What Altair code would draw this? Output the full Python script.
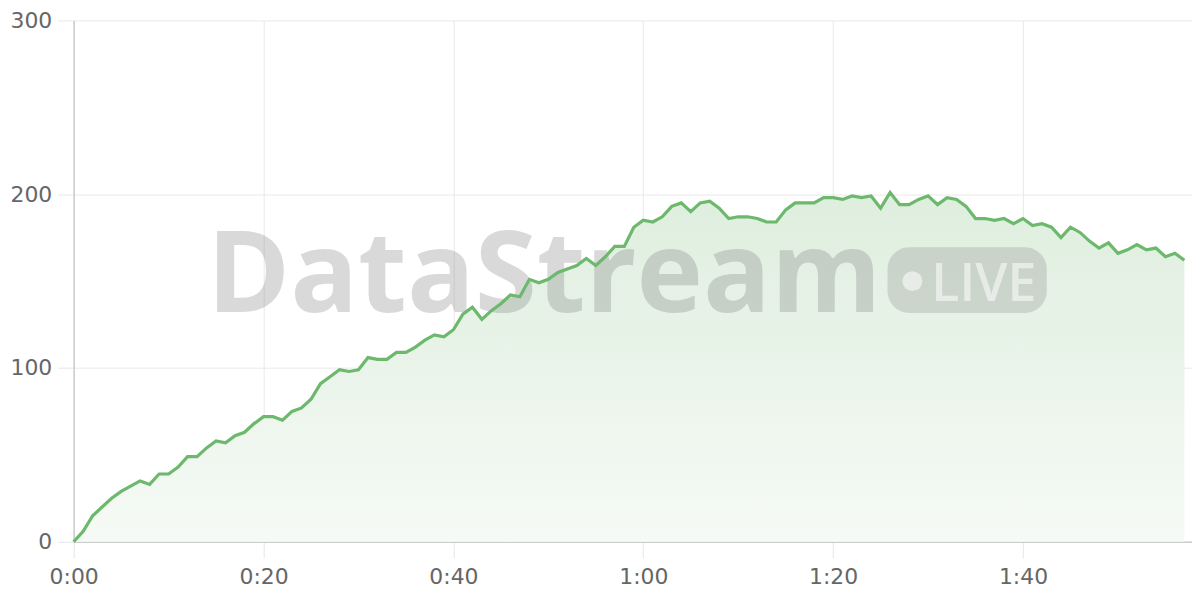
import altair as alt
import pandas as pd

# seconds since start
seconds = list(range(0, 118))
values = [
    0, 6, 15, 20, 25, 29, 32, 35, 33, 39,
    39, 43, 49, 49, 54, 58, 57, 61, 63, 68,
    72, 72, 70, 75, 77, 82, 91, 95, 99, 98,
    99, 106, 105, 105, 109, 109, 112, 116, 119, 118,
    122, 131, 135, 128, 133, 137, 142, 141, 151, 149,
    151, 155, 157, 159, 163, 159, 164, 170, 170, 181,
    185, 184, 187, 193, 195, 190, 195, 196, 192, 186,
    187, 187, 186, 184, 184, 191, 195, 195, 195, 198,
    198, 197, 199, 198, 199, 192, 201, 194, 194, 197,
    199, 194, 198, 197, 193, 186, 186, 185, 186, 183,
    186, 182, 183, 181, 175, 181, 178, 173, 169, 172,
    166, 168, 171, 168, 169, 164, 166, 162,
]
x_ticks = [0, 20, 40, 60, 80, 100]
y_ticks = [0, 100, 200, 300]
watermark_text = ["DataStream"]
badge_text = ["LIVE"]

df = pd.DataFrame({"t": seconds, "v": values})

W, H = 1124, 524
FONT = "DejaVu Sans"

x_enc = alt.X(
    "t:Q",
    scale=alt.Scale(domain=[0, 117.8], nice=False, zero=False),
    axis=alt.Axis(
        values=x_ticks,
        title=None,
        labelFlush=False,
        labelExpr="floor(datum.value/60) + ':' + (datum.value % 60 < 10 ? '0' : '') + (datum.value % 60)",
    ),
)
y_enc = alt.Y(
    "v:Q",
    scale=alt.Scale(domain=[0, 300], nice=False),
    axis=alt.Axis(values=y_ticks, title=None, labelFlush=False),
)

gradient = alt.Gradient(
    gradient="linear",
    stops=[
        alt.GradientStop(color="#f6faf6", offset=0),
        alt.GradientStop(color="#deeede", offset=1),
    ],
    x1=1, x2=1, y1=1, y2=0,
)

area = alt.Chart(df).mark_area(color=gradient, line=False, interpolate="linear").encode(x=x_enc, y=y_enc)

one = alt.Data(values=[{"k": 1}])

wm = alt.Chart(one).mark_text(
    text=watermark_text[0],
    font="Open Sans",
    fontWeight=700,
    fontSize=113,
    align="left",
    baseline="alphabetic",
    color="#7a7a7a",
    opacity=0.28,
).encode(x=alt.value(134), y=alt.value(293))

pill = alt.Chart(one).mark_rect(
    color="#7a7a7a", opacity=0.24, cornerRadius=22
).encode(x=alt.value(818), x2=alt.value(978), y=alt.value(228), y2=alt.value(294))

dot = alt.Chart(one).mark_point(
    filled=True, shape="circle", size=400, color="#ffffff", opacity=0.55
).encode(x=alt.value(843), y=alt.value(262))

live = alt.Chart(one).mark_text(
    text=badge_text[0],
    font="Open Sans",
    fontWeight=600,
    fontSize=52,
    align="left",
    baseline="alphabetic",
    color="#ffffff",
    opacity=0.55,
).encode(x=alt.value(862), y=alt.value(282))

line = alt.Chart(df).mark_line(color="#6cb86c", strokeWidth=3.2, interpolate="linear").encode(x=x_enc, y=y_enc)

chart = (
    alt.layer(area, wm, pill, dot, live, line)
    .properties(
        width=W,
        height=H,
        autosize=alt.AutoSizeParams(type="none"),
        padding={"left": 66, "top": 11, "right": 0, "bottom": 50},
    )
    .configure_view(stroke=None)
    .configure_axis(
        labelFont=FONT,
        labelFontSize=22,
        labelColor="#666666",
        gridColor="#e9e9e9",
        gridWidth=1,
        tickColor="#e6e6e6",
        tickSize=16,
        tickWidth=1,
        domainColor="#cccccc",
        domainWidth=1.5,
    )
    .configure_axisX(labelPadding=9)
    .configure_axisY(labelPadding=6)
)

chart.save("out.html", embed_options={"renderer": "svg", "actions": False})
